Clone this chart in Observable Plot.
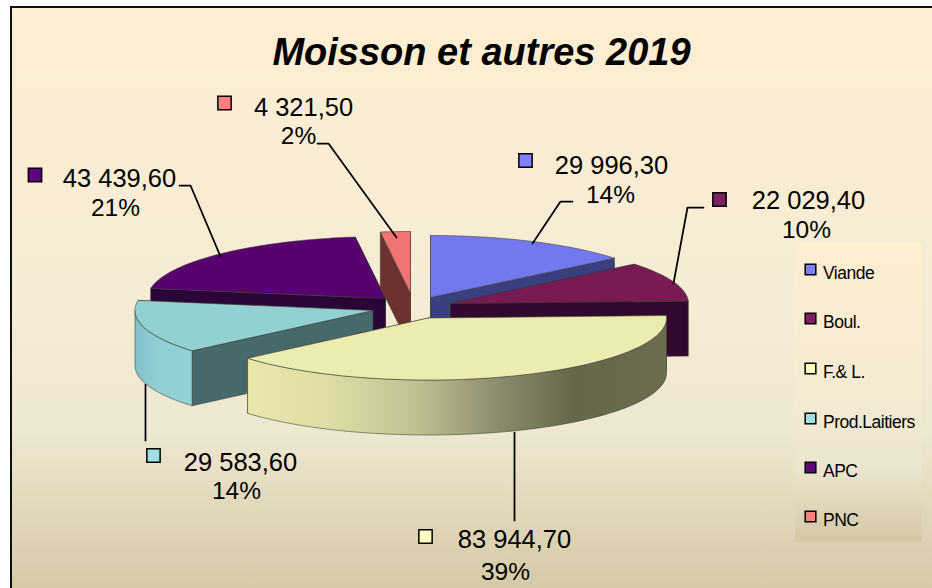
<!DOCTYPE html>
<html><head><meta charset="utf-8">
<script src="https://cdn.jsdelivr.net/npm/d3@7"></script>
<script src="https://cdn.jsdelivr.net/npm/@observablehq/plot@0.6"></script>
<style>html,body{margin:0;padding:0;background:#fff}svg{display:block}
.legendText text,text.legendText{letter-spacing:-0.5px}</style>
</head><body><div id="chart"></div>
<script>
const categories = ["Viande","Boul.","F.& L.","Prod.Laitiers","APC","PNC"];
const values = [29996.3,22029.4,83944.7,29583.6,43439.6,4321.5];
const valueLabels = ["29 996,30","22 029,40","83 944,70","29 583,60","43 439,60","4 321,50"];
const percentLabels = ["14%","10%","39%","14%","21%","2%"];
const chartTitle = "Moisson et autres 2019";

const topColors = ["#7478ee","#7a1a55","#edecb0","#92d0d2","#590070","#f07474"];
const legendColors = ["#8080ff","#802060","#ffffc0","#a0e0e0","#600080","#ff8080"];
const sideColors = ["#3a3f80","#33082e","#6a6a4e","#48696b","#2a0538","#6b322f"];
const wallFills = [null,null,"url(#wallFL)","url(#wallPL)",null,null];

// layout of the exploded pie
const apexX = [430,450,428,372.5,385,410];
const apexY = [297,303,317.5,310,298,293];
const rx = 238, ry = 62, depth = 55;
const paintOrder = [4,0,1,5,3,2];

// layout of the callouts
const markerX = [525,719,425,153,34.5,224];
const markerY = [160,199,536,455,174.5,102.5];
const valueX = [611,808,514,240,119,303];
const valueY = [165,200,539,462,178,107];
const pctX = [610,806,505,236,115,298];
const pctY = [195,230,572,491,208,136];
const leaders = [
  [[532,243],[560,201],[572,201]],
  [[673,283],[687,207],[703,207]],
  [[514,432],[514,520]],
  [[145,384],[145,440]],
  [[179,185],[190,185],[220,256]],
  [[317,143],[328,143],[396,237]]
];
const legendRowY = [269,318,368,418,467,516];

const slices = d3.pie().sort(null)(values);
function rim(i,a){ return [apexX[i]+rx*Math.sin(a), apexY[i]-ry*Math.cos(a)]; }
function arc(i,a0,a1){
  const n = Math.max(2,Math.ceil((a1-a0)/0.02));
  return d3.range(n+1).map(k=>rim(i,a0+(a1-a0)*k/n));
}
function radial(i,a){
  const p = rim(i,a), A=[apexX[i],apexY[i]];
  return [A,p,[p[0],p[1]+depth],[A[0],A[1]+depth],A];
}
const edge = {stroke:"#3a3a30",strokeOpacity:0.55,strokeWidth:1,strokeLinejoin:"round"};
const poly = (pts,fill)=>Plot.line(pts,{x:d=>d[0],y:d=>d[1],fill,...edge});

const faces = paintOrder.flatMap(i=>{
  const s = slices[i], out = [];
  // the radial face whose rim lies further back is painted first
  [s.startAngle,s.endAngle].sort((a,b)=>rim(i,a)[1]-rim(i,b)[1])
    .forEach(a=>out.push(poly(radial(i,a),sideColors[i])));
  const a0 = Math.max(s.startAngle,Math.PI/2), a1 = Math.min(s.endAngle,3*Math.PI/2);
  if (a1>a0){
    const top = arc(i,a0,a1);
    const bot = top.map(p=>[p[0],p[1]+depth]).reverse();
    out.push(poly([...top,...bot,top[0]],wallFills[i]||sideColors[i]));
  }
  out.push(poly([[apexX[i],apexY[i]],...arc(i,s.startAngle,s.endAngle),[apexX[i],apexY[i]]],topColors[i]));
  return out;
});

const defs = ()=>{
  const d = d3.create("svg:defs");
  const grad=(id,x2,y2,stops)=>{
    const g=d.append("linearGradient").attr("id",id).attr("x1",0).attr("y1",0).attr("x2",x2).attr("y2",y2);
    stops.forEach(([o,c])=>g.append("stop").attr("offset",o).attr("stop-color",c));
  };
  grad("bg",0,1,[[0,"#feeed2"],[0.5,"#f5ecd5"],[0.72,"#eee7d1"],[0.83,"#e3dabd"],[1,"#d3c8a4"]]);
  grad("lg",0,1,[[0,"#feeed2"],[0.5,"#f4ebd3"],[0.75,"#ece5cf"],[1,"#d3c8a4"]]);
  grad("wallFL",1,0,[[0,"#e9e7ab"],[0.2,"#dedca4"],[0.4,"#c2c092"],[0.6,"#8c8b6c"],[0.78,"#66664b"],[1,"#6c6c50"]]);
  grad("wallPL",1,0,[[0,"#82c0c8"],[0.4,"#90d0d4"],[1,"#92d2d6"]]);
  return d.node();
};

const labelFont = {fontFamily:"'Liberation Sans',Arial,sans-serif",fill:"#000"};
const idx = d3.range(categories.length);

const plot = Plot.plot({
  width:932,height:588,margin:0,
  x:{domain:[0,932],range:[0,932],axis:null},
  y:{domain:[0,588],range:[0,588],axis:null},
  style:{background:"#fff",overflow:"hidden"},
  marks:[
    defs,
    Plot.rect([0],{x1:()=>11,x2:()=>945,y1:()=>7,y2:()=>600,fill:"url(#bg)",stroke:"#111",strokeWidth:2}),
    ...faces,
    ...leaders.map(l=>Plot.line(l,{x:d=>d[0],y:d=>d[1],stroke:"#000",strokeWidth:1.75})),
    Plot.dot(idx,{x:i=>markerX[i],y:i=>markerY[i],symbol:"square",r:7.5,fill:i=>legendColors[i],stroke:"#000",strokeWidth:1.5}),
    Plot.text(idx,{x:i=>valueX[i],y:i=>valueY[i],text:i=>valueLabels[i],fontSize:25.5,...labelFont}),
    Plot.text(idx,{x:i=>pctX[i],y:i=>pctY[i],text:i=>percentLabels[i],fontSize:24.5,...labelFont}),
    Plot.text([chartTitle],{x:()=>481,y:()=>52,text:d=>d,fontSize:38,fontWeight:"bold",fontStyle:"italic",...labelFont}),
    Plot.rect([0],{x1:()=>795,x2:()=>922,y1:()=>243,y2:()=>542,fill:"url(#lg)"}),
    Plot.dot(idx,{x:()=>810,y:i=>legendRowY[i],symbol:"square",r:6,fill:i=>legendColors[i],stroke:"#000",strokeWidth:1.5}),
    Plot.text(idx,{x:()=>822.5,y:i=>legendRowY[i]+3.5,text:i=>categories[i],textAnchor:"start",fontSize:17.5,className:"legendText",...labelFont})
  ]
});
document.getElementById("chart").appendChild(plot);
</script></body></html>
